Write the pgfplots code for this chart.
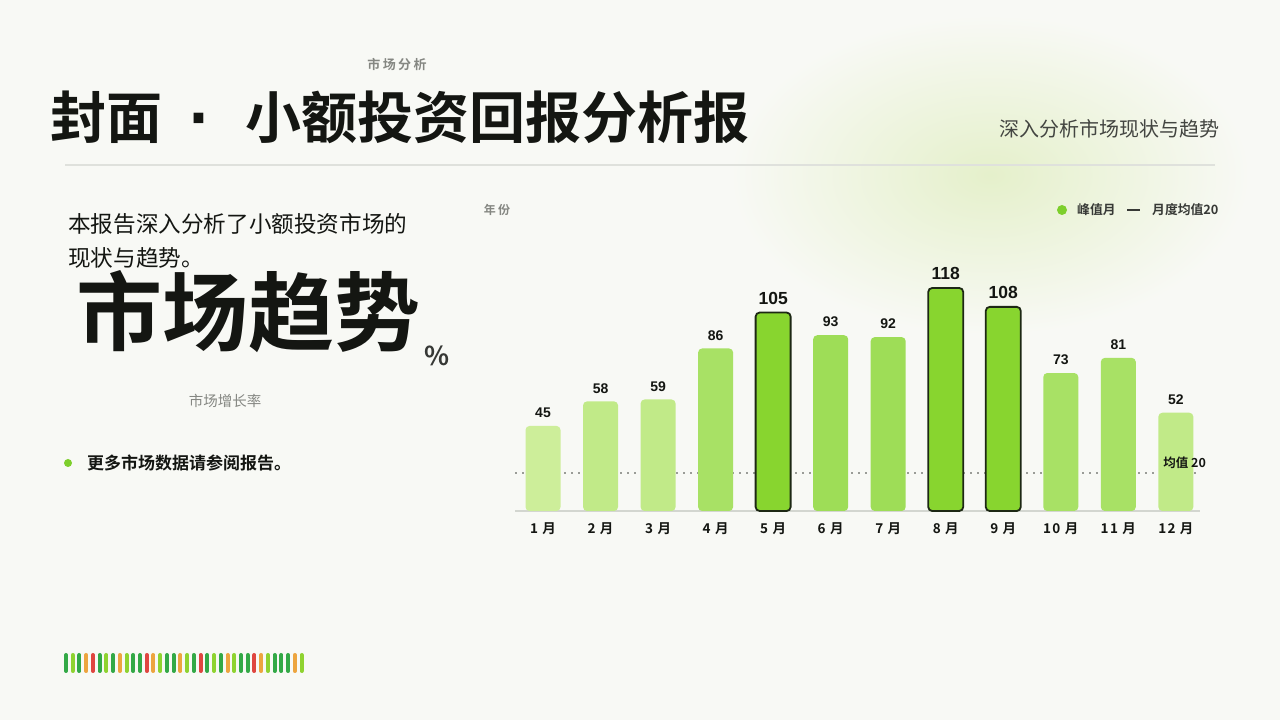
\documentclass[border=0pt]{standalone}
\usepackage{pgfplots}
\pgfplotsset{compat=1.18}
\usepackage{fontspec}
\setmainfont{Noto Sans CJK SC}[BoldFont={Noto Sans CJK SC Bold}]
\newfontfamily\spaced{Noto Sans CJK SC}[BoldFont={Noto Sans CJK SC Bold},LetterSpace=18]
\newfontfamily\monthfont{Noto Sans CJK SC}[BoldFont={Noto Sans CJK SC Bold},LetterSpace=10]
\newfontfamily\numfont{Liberation Sans}
\newfontfamily\dejavu{DejaVu Sans}
\newcommand\fs[1]{\fontsize{#1}{#1}\selectfont}
\definecolor{bg}{HTML}{F8F9F5}
\definecolor{glow}{HTML}{E5F0CB}
\definecolor{ink}{HTML}{141612}
\definecolor{grey}{HTML}{858782}
\definecolor{rule}{HTML}{DFE1DC}
\definecolor{base}{HTML}{D3D6D0}
\definecolor{avg}{HTML}{9A9C97}
\definecolor{cA}{HTML}{CDEE9A}
\definecolor{cB}{HTML}{C1EA88}
\definecolor{cC}{HTML}{A8E165}
\definecolor{cD}{HTML}{9EDD57}
\definecolor{peak}{HTML}{88D52F}
\definecolor{peakedge}{HTML}{1D2814}
\definecolor{dot}{HTML}{7DCF2C}
\definecolor{sD}{HTML}{33A946}
\definecolor{sL}{HTML}{8FD330}
\definecolor{sO}{HTML}{EDA53F}
\definecolor{sR}{HTML}{DF4640}
\begin{document}
\begin{tikzpicture}[x=1pt,y=1pt]
\useasboundingbox (0,0) rectangle (1280,720);
\fill[bg] (0,0) rectangle (1280,720);
\shade[inner color=glow, outer color=bg] (990,545) ellipse (260 and 160);

% header
\node[anchor=center, inner sep=0, text=grey] at (397,655) {\spaced\bfseries\fs{13}市场分析};
\node[anchor=west, inner sep=0, text=ink] at (50,603) {\bfseries\fs{56}封面};
\node[anchor=center, inner sep=0, text=ink] at (199,595) {\dejavu\bfseries\fs{55}·};
\node[anchor=west, inner sep=0, text=ink] at (245,603) {\bfseries\fs{56}小额投资回报分析报};
\node[anchor=east, inner sep=0, text=ink!80] at (1220,591) {\fs{20}深入分析市场现状与趋势};
\draw[rule, line width=1.2pt] (65,555) -- (1215,555);

% left column
\node[anchor=west, inner sep=0, text=ink] at (68,496) {\fs{22.6}本报告深入分析了小额投资市场的};
\node[anchor=west, inner sep=0, text=ink] at (68,462) {\fs{22.6}现状与趋势。};
\node[anchor=west, inner sep=0, text=ink] at (76,408) {\bfseries\fs{86}市场趋势};
\node[anchor=west, inner sep=0, text=ink!85] at (424,364) {\bfseries\fs{26}\%};
\node[anchor=center, inner sep=0, text=grey] at (225,319) {\fs{14.5}市场增长率};
\fill[dot] (68,257) circle (4);
\node[anchor=west, inner sep=0, text=ink] at (87,257) {\bfseries\fs{17}更多市场数据请参阅报告。};

% stripe
\foreach \c [count=\i from 0] in {D,L,D,O,R,D,L,D,O,L,D,D,R,O,L,D,D,O,L,D,R,D,L,D,O,L,D,D,R,O,L,D,D,D,O,L}
  \draw[s\c, line width=4pt, line cap=round] (66+\i*6.73,65) -- ++(0,-16);

% chart header and legend
\node[anchor=center, inner sep=0, text=grey] at (497,510) {\spaced\bfseries\fs{12}年份};
\fill[dot] (1062,510) circle (5);
\node[anchor=west, inner sep=0, text=ink!85] at (1077,510) {\bfseries\fs{12.8}峰值月};
\draw[ink!85, line width=2pt] (1127,510) -- (1140,510);
\node[anchor=west, inner sep=0, text=ink!85] at (1152,510) {\bfseries\fs{12.8}月度均值20};

\begin{axis}[
  at={(515pt,209pt)}, anchor=south west,
  scale only axis, width=685pt, height=245.7pt,
  xmin=0.513, xmax=12.42, ymin=0, ymax=130,
  clip=false,
  axis line style={draw=none},
  major tick length=0pt,
  ytick=\empty,
  xtick={1,...,12},
  xticklabels={1 月,2 月,3 月,4 月,5 月,6 月,7 月,8 月,9 月,10 月,11 月,12 月},
  xticklabel style={font=\monthfont\bfseries\fs{13.5}, text=ink, inner sep=0pt, yshift=-11pt},
  /pgf/number format/assume math mode=true,
  ybar, bar width=35pt,
  nodes near coords,
  nodes near coords style={font=\numfont\bfseries\fs{14}, text=ink, anchor=south, inner sep=0pt, yshift=8pt},
]
\draw[avg, line width=1.8pt, dash pattern=on 1.6pt off 5.4pt] (axis cs:0.513,20) -- (axis cs:12.42,20);
\draw[base, line width=1.5pt] (axis cs:0.513,0) -- (axis cs:12.42,0);
\addplot[bar shift=0pt, fill=cA, draw=none, rounded corners=4pt] coordinates {(1,45)};
\addplot[bar shift=0pt, fill=cB, draw=none, rounded corners=4pt] coordinates {(2,58) (3,59) (12,52)};
\addplot[bar shift=0pt, fill=cC, draw=none, rounded corners=4pt] coordinates {(4,86) (10,73) (11,81)};
\addplot[bar shift=0pt, fill=cD, draw=none, rounded corners=4pt] coordinates {(6,93) (7,92)};
\addplot[bar shift=0pt, fill=peak, draw=peakedge, line width=1.8pt, rounded corners=4pt,
  nodes near coords style={font=\numfont\bfseries\fs{17.5}, yshift=-1pt}] coordinates {(5,105) (8,118) (9,108)};
\node[anchor=west, inner sep=0, text=ink, font=\bfseries\fs{12.5}] at (axis cs:11.78,25.4) {均值 20};
\end{axis}
\end{tikzpicture}
\end{document}
